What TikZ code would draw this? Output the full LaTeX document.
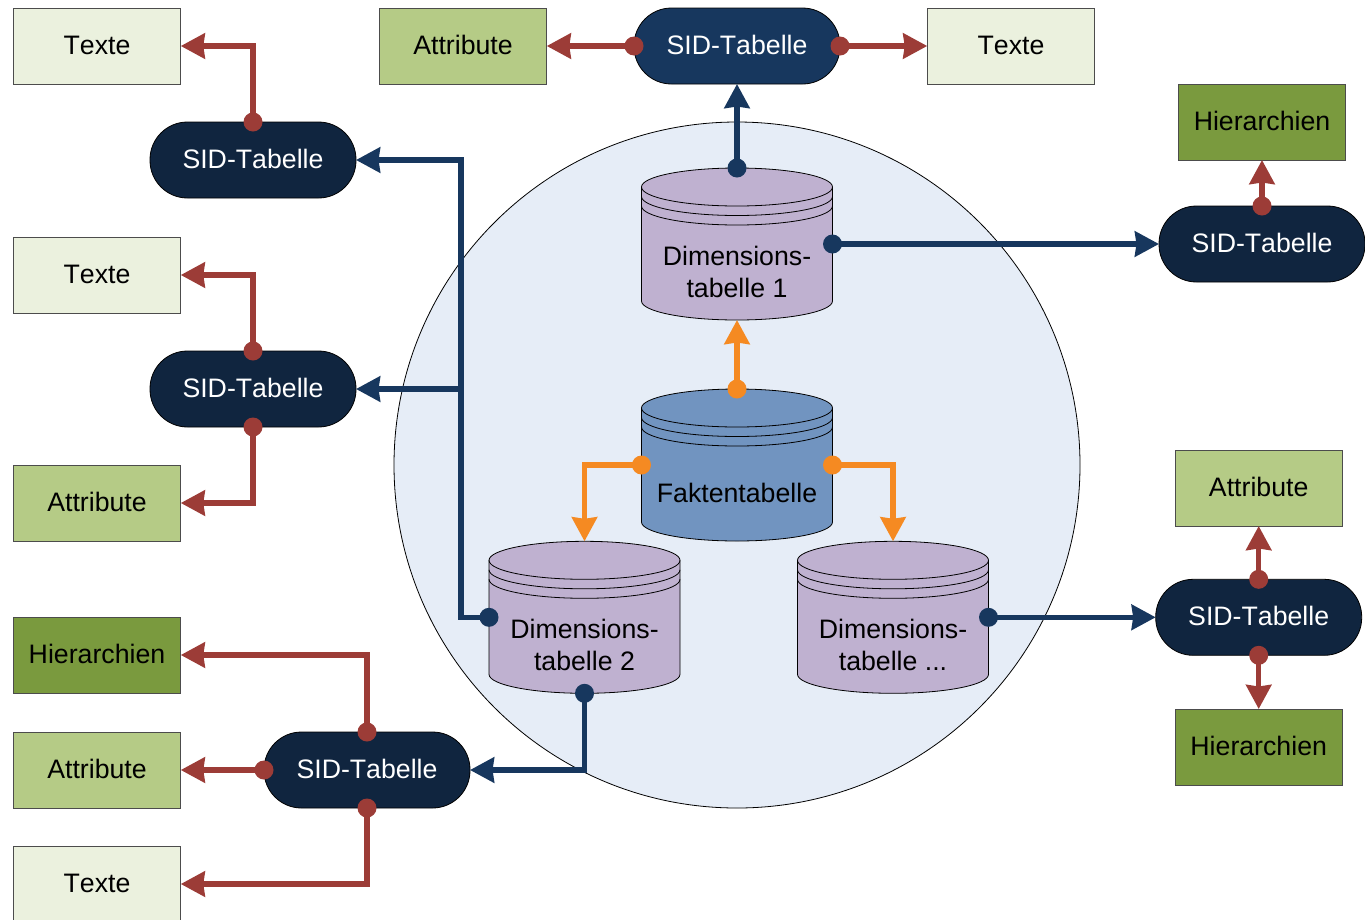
\documentclass[tikz,border=0pt]{standalone}
\usepackage{fontspec}
\setmainfont[Kerning=Off]{Liberation Sans}
\usetikzlibrary{arrows.meta,calc}
\definecolor{cBlueTop}{HTML}{17375E}
\definecolor{cBlueDark}{HTML}{10253F}
\definecolor{cTexte}{HTML}{EBF1DE}
\definecolor{cAttr}{HTML}{B5CB86}
\definecolor{cHier}{HTML}{7A9A3E}
\definecolor{cDim}{HTML}{BFB1D0}
\definecolor{cFakt}{HTML}{7194C0}
\definecolor{cBall}{HTML}{E6EDF7}
\definecolor{cRed}{HTML}{9C3C37}
\definecolor{cOrange}{HTML}{F58A22}
\tikzset{
  x=1pt,y=-1pt,
  every node/.style={font=\fontsize{26.7}{32}\selectfont,inner sep=0pt,outer sep=0pt,align=center},
  boxbase/.style={draw=black!70,line width=0.8pt,minimum width=167.5pt,minimum height=76pt,text height=19pt,text depth=3pt},
  texte/.style={boxbase,fill=cTexte},
  attr/.style={boxbase,fill=cAttr},
  hier/.style={boxbase,fill=cHier},
  pill/.style={draw=black,line width=0.8pt,fill=cBlueDark,text=white,rounded corners=37.5pt,minimum width=206pt,minimum height=76pt,text height=19pt,text depth=3pt},
  pilltop/.style={pill,fill=cBlueTop},
  cylspace/.style={minimum width=191pt,minimum height=152pt},
  cylshape/.style={draw=black,line width=0.8pt},
  conn/.style={line width=5.4pt,-{Stealth[length=24pt,width=25pt,inset=1.5pt]},line join=miter},
  rline/.style={conn,draw=cRed},
  bline/.style={conn,draw=cBlueTop},
  oline/.style={conn,draw=cOrange},
}
% \cyl{name}{cx}{cy}{fill}{text}
\newcommand{\cyl}[5]{%
  \node[cylspace] (#1) at (#2,#3) {};
  \fill[#4] (#2-95.5,#3-57) arc[x radius=95.5,y radius=19,start angle=180,end angle=360]
     -- (#2+95.5,#3+57) arc[x radius=95.5,y radius=19,start angle=0,end angle=180] -- cycle;
  \draw[cylshape] (#2-95.5,#3-57) arc[x radius=95.5,y radius=19,start angle=180,end angle=360]
     -- (#2+95.5,#3+57) arc[x radius=95.5,y radius=19,start angle=0,end angle=180] -- cycle;
  \foreach \d in {0,9.5,19}{
    \draw[cylshape] (#2-95.5,#3-57+\d) arc[x radius=95.5,y radius=19,start angle=180,end angle=0];
  }
  \node (#1text) at (#2,#3+27.5) {#5};
}
\newcommand{\dotat}[2]{\fill[#1] (#2) circle[radius=9.5pt];}
\begin{document}
\begin{tikzpicture}
\useasboundingbox (0,0) rectangle (1365,919);
\clip (0,0) rectangle (1365,919);
\node[draw=black,line width=0.8pt,fill=cBall,circle,minimum size=686pt] (ball) at (737,465) {};

\cyl{dimA}{737}{244}{cDim}{Dimensions-\\tabelle 1}
\cyl{fakt}{737}{465}{cFakt}{Faktentabelle}
\cyl{dimB}{584.5}{617.3}{cDim}{Dimensions-\\tabelle 2}
\cyl{dimC}{893}{617.3}{cDim}{Dimensions-\\tabelle ...}

\node[texte] (texteA) at (97,46) {Texte};
\node[texte] (texteB) at (97,275) {Texte};
\node[attr]  (attrB)  at (97,503) {Attribute};
\node[hier]  (hierC)  at (97,655) {Hierarchien};
\node[attr]  (attrC)  at (97,770) {Attribute};
\node[texte] (texteC) at (97,884) {Texte};
\node[attr]  (attrT)  at (463,46) {Attribute};
\node[texte] (texteT) at (1011,46) {Texte};
\node[hier]  (hierR)  at (1262,122) {Hierarchien};
\node[attr]  (attrS)  at (1258.7,488) {Attribute};
\node[hier]  (hierS)  at (1258.7,747) {Hierarchien};

\node[pilltop] (sidT) at (737,46) {SID-Tabelle};
\node[pill] (sidA) at (253,160) {SID-Tabelle};
\node[pill] (sidB) at (253,389) {SID-Tabelle};
\node[pill] (sidC) at (367,770) {SID-Tabelle};
\node[pill] (sidR) at (1262,244) {SID-Tabelle};
\node[pill] (sidS) at (1258.7,617.3) {SID-Tabelle};

\coordinate (bus) at (461,617.3);

% blue
\draw[bline] (dimA.north) -- (sidT.south);
\draw[bline] (dimA.east) -- (sidR.west);
\draw[bline] (dimB.west) -- (bus) |- (sidA.east);
\draw[bline] (bus) |- (sidB.east);
\draw[bline] (dimB.south) |- (sidC.east);
\draw[bline] (dimC.east) -- (sidS.west);
% orange
\draw[oline] (fakt.north) -- (dimA.south);
\draw[oline] (fakt.west) -| (dimB.north);
\draw[oline] (fakt.east) -| (dimC.north);
% red
\draw[rline] (sidT.west) -- (attrT.east);
\draw[rline] (sidT.east) -- (texteT.west);
\draw[rline] (sidA.north) |- (texteA.east);
\draw[rline] (sidB.north) |- (texteB.east);
\draw[rline] (sidB.south) |- (attrB.east);
\draw[rline] (sidC.north) |- (hierC.east);
\draw[rline] (sidC.west) -- (attrC.east);
\draw[rline] (sidC.south) |- (texteC.east);
\draw[rline] (sidR.north) -- (hierR.south);
\draw[rline] (sidS.north) -- (attrS.south);
\draw[rline] (sidS.south) -- (hierS.north);

\dotat{cBlueTop}{dimA.north}
\dotat{cBlueTop}{dimA.east}
\dotat{cBlueTop}{dimB.west}
\dotat{cBlueTop}{dimB.south}
\dotat{cBlueTop}{dimC.east}
\dotat{cOrange}{fakt.north}
\dotat{cOrange}{fakt.west}
\dotat{cOrange}{fakt.east}
\dotat{cRed}{sidT.west}
\dotat{cRed}{sidT.east}
\dotat{cRed}{sidA.north}
\dotat{cRed}{sidB.north}
\dotat{cRed}{sidB.south}
\dotat{cRed}{sidC.north}
\dotat{cRed}{sidC.west}
\dotat{cRed}{sidC.south}
\dotat{cRed}{sidR.north}
\dotat{cRed}{sidS.north}
\dotat{cRed}{sidS.south}
\end{tikzpicture}
\end{document}
